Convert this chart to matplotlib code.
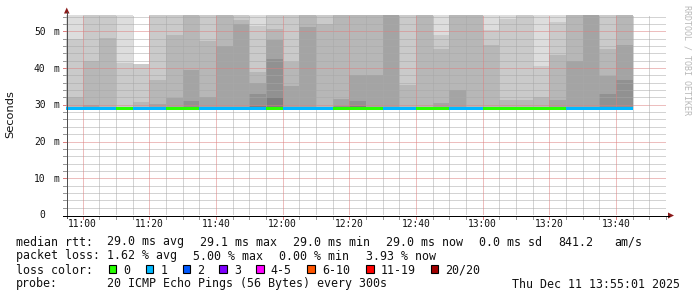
import matplotlib
matplotlib.use("Agg")
import matplotlib.pyplot as plt
import matplotlib.dates as mdates
from matplotlib.patches import Polygon, Rectangle
from matplotlib.lines import Line2D
from matplotlib.transforms import IdentityTransform, offset_copy, blended_transform_factory
from datetime import datetime, timedelta

# ---------------- data ----------------
bar_start = ["10:55", "11:00", "11:05", "11:10", "11:15", "11:20", "11:25", "11:30",
             "11:35", "11:40", "11:45", "11:50", "11:55", "12:00", "12:05", "12:10",
             "12:15", "12:20", "12:25", "12:30", "12:35", "12:40", "12:45", "12:50",
             "12:55", "13:00", "13:05", "13:10", "13:15", "13:20", "13:25", "13:30",
             "13:35", "13:40"]
median_ms = [29.0, 29.0, 29.0, 29.0, 29.0, 29.0, 29.0, 29.0, 29.0, 29.0, 29.0, 29.0,
             29.0, 29.0, 29.0, 29.0, 29.0, 29.0, 29.0, 29.0, 29.0, 29.0, 29.0, 29.0,
             29.0, 29.0, 29.0, 29.0, 29.0, 29.0, 29.0, 29.0, 29.0, 29.0]
lost_pings = [1, 1, 1, 0, 1, 1, 0, 0, 1, 1, 1, 1, 0, 1, 1, 1, 0,
              0, 0, 1, 1, 0, 0, 1, 1, 0, 0, 0, 0, 0, 1, 1, 1, 1]
# ping values (ms) bounding the smoke bands, from highest ping down to the median line
smoke_edges = [
    [60, 48.0, 32.1, 29.4], [60, 41.8, 29.9, 29.4], [60, 48.1, 29.4], [60, 41.4, 29.4],
    [41.2, 30.8, 29.4], [60, 36.7, 30.2, 29.4], [60, 48.9, 31.9, 29.4], [60, 39.4, 31.1, 29.4],
    [60, 47.3, 32.0, 29.4], [60, 45.9, 29.4], [60, 53.2, 52.1, 29.4],
    [60, 51.4, 38.9, 35.8, 32.9, 29.8, 29.4], [60, 50.7, 47.7, 42.6, 32.0, 29.4],
    [60, 41.7, 35.1, 29.4], [60, 51.2, 29.4], [60, 51.9, 29.4], [60, 31.5, 29.7, 29.4],
    [60, 38.0, 31.0, 29.6, 29.4], [60, 38.0, 29.4], [60, 29.4], [60, 35.3, 29.4], [60, 29.4],
    [60, 48.9, 45.1, 30.5, 29.4], [60, 34.0, 29.4], [60, 29.4], [60, 50.4, 46.2, 29.4],
    [60, 53.3, 31.3, 29.4], [60, 31.3, 29.4], [60, 40.5, 32.0, 29.4],
    [60, 52.5, 43.5, 31.3, 29.4], [60, 41.9, 29.4], [60, 29.4],
    [60, 45.1, 37.8, 32.9, 29.4], [60, 46.2, 36.7, 29.4]]
# smoke pair rank of each band (1 = outermost / lightest)
smoke_rank = [
    [1, 2, 3], [2, 3, 4], [2, 3], [1, 2], [2, 3], [2, 3, 4], [2, 3, 4], [3, 4, 5],
    [2, 3, 4], [3, 4], [2, 3, 4], [1, 2, 3, 4, 5, 6], [2, 3, 4, 5, 6], [2, 3, 4],
    [3, 4], [2, 3], [3, 4, 5], [3, 4, 5, 6], [3, 4], [4], [2, 3], [3], [1, 2, 3, 4],
    [3, 4], [3], [1, 2, 3], [1, 2, 3], [2, 3], [1, 2, 3], [1, 2, 3, 4], [3, 4], [4],
    [2, 3, 4, 5], [3, 4, 5]]
smoke_gray = ["#dddddd", "#cacaca", "#b7b7b7", "#a4a4a4", "#919191", "#7e7e7e"]

y_ticks = [0, 10, 20, 30, 40, 50]
loss_labels = ["0", "1", "2", "3", "4-5", "6-10", "11-19", "20/20"]
loss_colors = ["#26ff00", "#00b8ff", "#0059ff", "#7e00ff", "#ff00ff", "#ff5500", "#ff0000", "#a10000"]
rtt_stats = [("29.0", "avg"), ("29.1", "max"), ("29.0", "min"), ("29.0", "now")]
rtt_sd = "0.0"
rtt_ams = "841.2"
loss_stats = [("1.62", "avg"), ("5.00", "max"), ("0.00", "min"), ("3.93", "now")]
probe_text = "20 ICMP Echo Pings (56 Bytes) every 300s"
stamp_text = "Thu Dec 11 13:55:01 2025"

# ---------------- figure ----------------
W, H = 697, 297
DPI = 100
fig = plt.figure(figsize=(W / DPI, H / DPI), dpi=DPI, facecolor="white")
ax = fig.add_axes([66 / W, (H - 215) / H, 600 / W, 200.2 / H])
ax.set_facecolor("white")
for s in ax.spines.values():
    s.set_visible(False)

day = datetime(2025, 12, 11)
def tm(s):
    h, m = s.split(":")
    return day + timedelta(hours=int(h), minutes=int(m))

step = timedelta(minutes=5)
x0 = tm("10:55")
x1 = tm("13:55")
ax.set_xlim(x0, x1)
ax.set_ylim(0, 54.5)

# smoke
for k, s in enumerate(bar_start):
    t = tm(s)
    e = smoke_edges[k]
    for j, r in enumerate(smoke_rank[k]):
        ax.bar(t, e[j] - e[j + 1], bottom=e[j + 1], width=step, align="edge",
               color=smoke_gray[r - 1], linewidth=0, antialiased=False, zorder=1)

# grid (dotted, drawn over smoke like rrdtool)
minor_gray = "#a8a8a8"
major_red = "#dd7f7f"
dot = (0, (1, 1))
for v in range(2, 55, 2):
    ax.axhline(v, color=major_red if v % 10 == 0 else minor_gray, lw=0.72,
               ls=dot, antialiased=True, zorder=2)
t = tm("11:00")
while t <= x1:
    major = (t.minute % 20 == 0)
    ax.axvline(t, color=major_red if major else minor_gray, lw=0.72,
               ls=dot, antialiased=True, zorder=2)
    t += step

# median line coloured by loss
for k, s in enumerate(bar_start):
    ax.bar(tm(s), 0.9, bottom=median_ms[k] - 0.45, width=step, align="edge",
           color=loss_colors[lost_pings[k]], linewidth=0, antialiased=False, zorder=3)

ax.set_xticks([])
ax.set_yticks([])

mono = "DejaVu Sans Mono"
# x tick labels
xtr = offset_copy(blended_transform_factory(ax.transData, ax.transAxes), fig=fig,
                  x=0, y=-12, units="dots")
t = tm("11:00")
while t <= tm("13:40"):
    ax.text(t, 0, t.strftime("%H:%M"), transform=xtr, ha="center", va="baseline",
            family=mono, fontsize=6.9, color="#111111")
    t += timedelta(minutes=20)
# small x ticks
t = tm("11:00")
while t <= x1:
    major = (t.minute % 20 == 0)
    xd = ax.transData.transform((mdates.date2num(t), 0))[0]
    fig.add_artist(Line2D([xd, xd], [H - 215.5, H - 218.5], transform=IdentityTransform(),
                          color=major_red if major else "#999999", lw=0.72, antialiased=False))
    t += step

# y tick labels
ytr_num = offset_copy(ax.get_yaxis_transform(), fig=fig, x=-20.5, y=-3.5, units="dots")
ytr_m = offset_copy(ax.get_yaxis_transform(), fig=fig, x=-9.3, y=-3.5, units="dots")
for v in y_ticks:
    ax.text(0, v, str(v), transform=ytr_num, ha="right", va="baseline",
            family=mono, fontsize=6.9, color="#111111")
    if v != 0:
        ax.text(0, v, "m", transform=ytr_m, ha="center", va="baseline",
                family=mono, fontsize=6.9, color="#111111")
for v in range(2, 55, 2):
    yd = ax.transData.transform((0, v))[1]
    fig.add_artist(Line2D([63, 66], [yd, yd], transform=IdentityTransform(),
                          color=major_red if v % 10 == 0 else "#999999", lw=0.72,
                          antialiased=False))

# axes lines with arrows
fig.add_artist(Line2D([66.5, 66.5], [H - 218, H - 12], transform=IdentityTransform(),
                      color="#505050", lw=0.72, antialiased=False))
fig.add_artist(Line2D([63, 669], [H - 215.5, H - 215.5], transform=IdentityTransform(),
                      color="black", lw=0.72, antialiased=False))
fig.add_artist(Polygon([[64, H - 13.5], [69.5, H - 13.5], [66.75, H - 7.5]], closed=True,
                       transform=IdentityTransform(), color="#8b1a1a", lw=0))
fig.add_artist(Polygon([[668, H - 212.5], [668, H - 218.5], [674, H - 215.5]], closed=True,
                       transform=IdentityTransform(), color="#8b1a1a", lw=0))

# y axis title
fig.text(10.5 / W, 1 - 114 / H, "Seconds", rotation=90, ha="center", va="center",
         family="DejaVu Sans", fontsize=8.2, color="#111111")
# watermark
fig.text(687.5 / W, 1 - 60 / H, "RRDTOOL / TOBI OETIKER", rotation=270, ha="center",
         va="center", family=mono, fontsize=6.0, color="#b8b8b8")

# legend text
def ftext(x, ybase, s, **kw):
    fig.text(x / W, 1 - ybase / H, s, ha=kw.pop("ha", "left"), va="baseline",
             family=mono, fontsize=8.4, color="#111111", **kw)

b1, b2, b3, b4 = 245.5, 259.5, 273.5, 287.5
ftext(16, b1, "median rtt:")
for (val, lab), x in zip(rtt_stats, [107.3, 200, 293.3, 386]):
    ftext(x, b1, f"{val} ms {lab}")
ftext(479.3, b1, f"{rtt_sd} ms sd")
ftext(558.3, b1, rtt_ams)
ftext(614, b1, "am/s")

ftext(16, b2, "packet loss:")
for (val, lab), x in zip(loss_stats, [107.3, 193.3, 279.3, 366]):
    ftext(x, b2, f"{val} % {lab}")

ftext(16, b3, "loss color:")
sq_x = [108.7, 145.7, 182.7, 219.3, 256, 307.3, 366, 430.7]
for lab, col, x in zip(loss_labels, loss_colors, sq_x):
    fig.add_artist(Rectangle((x, H - 273.2), 7.5, 8, transform=IdentityTransform(),
                             facecolor=col, edgecolor="black", lw=0.8))
    ftext(x + 14.5, b3, lab)

ftext(16, b4, "probe:")
ftext(107.3, b4, probe_text)
ftext(680, b4, stamp_text, ha="right")

fig.savefig("out.png", dpi=DPI, facecolor="white")
